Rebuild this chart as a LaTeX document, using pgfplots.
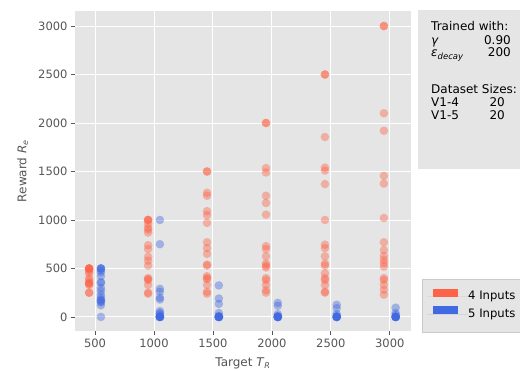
\documentclass[border=0pt]{standalone}
\usepackage{fontspec}
\setmainfont{DejaVu Sans}
\usepackage{pgfplots}
\pgfplotsset{compat=1.18}
\definecolor{ggbg}{HTML}{E5E5E5}
\definecolor{tickc}{HTML}{555555}
\definecolor{redc}{HTML}{FF6347}
\definecolor{bluec}{HTML}{4169E1}
\begin{document}
\begin{tikzpicture}[x=1pt,y=1pt]
\useasboundingbox (0,0) rectangle (520,371);
% info box
\fill[ggbg] (418,202) rectangle (520,361);
\begin{scope}[every node/.style={font=\fontsize{12}{14}\selectfont, text=black, inner sep=0pt}]
\node[anchor=base west] at (431,340.4) {Trained with:};
\node[anchor=base west] at (431,326.7) {\textit{γ}};
\node[anchor=base east] at (511,326.7) {0.90};
\node[anchor=base west] at (431,314) {\textit{ε}\raisebox{-2.5pt}{\fontsize{8.5}{9}\selectfont\textit{decay}}};
\node[anchor=base east] at (511,314) {200};
\node[anchor=base west] at (431,277) {Dataset Sizes:};
\node[anchor=base west] at (431,264) {V1-4};
\node[anchor=base east] at (505,264) {20};
\node[anchor=base west] at (431,251) {V1-5};
\node[anchor=base east] at (505,251) {20};
\end{scope}
\begin{axis}[
  at={(75pt,40pt)}, anchor=south west,
  scale only axis, width=336pt, height=320pt,
  xmin=330, xmax=3180, ymin=-145, ymax=3155,
  xtick={500,1000,...,3000}, ytick={0,500,...,3000},
  xtick pos=left, ytick pos=left,
  grid=major, major grid style={white, line width=0.9pt},
  axis background/.style={fill=ggbg},
  axis line style={draw=none},
  tick style={tickc, line width=0.7pt},
  tick align=outside, major tick length=4pt,
  ticklabel style={font=\fontsize{11.5}{13}\selectfont, text=tickc},
  /pgf/number format/assume math mode=true,
  /pgf/number format/1000 sep={},
  label style={font=\fontsize{12}{14}\selectfont, text=tickc},
  xlabel={Target \textit{T}\textsubscript{\textit{R}}},
  ylabel={Reward \textit{R}\textsubscript{\textit{e}}},
  xlabel style={yshift=-4pt},
  ylabel style={yshift=3pt},
  legend style={at={(axis description cs:1,0)}, anchor=south west, xshift=11pt, yshift=-1pt,
    fill=ggbg, draw=ggbg!88!black, font=\fontsize{11.6}{13}\selectfont, inner xsep=5pt, inner ysep=9pt,
    nodes={text height=9pt, text depth=3pt, inner ysep=2.75pt, inner xsep=0pt}},
  legend cell align=left,
  legend image code/.code={\path (0pt,0pt) -- (41pt,0pt); \fill[#1] (6pt,0pt) rectangle (31pt,8pt);},
]
\addplot[only marks, mark=*, mark size=4.3pt, color=redc, mark options={draw=none, draw opacity=0, fill=redc, fill opacity=0.42}, forget plot] table[row sep=\\] {
x y\\
450 500\\ 450 500\\ 450 500\\ 450 500\\ 450 490\\ 450 470\\ 450 450\\ 450 400\\ 450 380\\ 450 350\\ 450 350\\ 450 340\\ 450 330\\ 450 250\\ 450 250\\
950 1000\\ 950 1000\\ 950 1000\\ 950 960\\ 950 920\\ 950 900\\ 950 870\\ 950 740\\ 950 700\\ 950 620\\ 950 580\\ 950 530\\ 950 400\\ 950 390\\ 950 380\\ 950 330\\ 950 250\\ 950 240\\
1450 1500\\ 1450 1500\\ 1450 1280\\ 1450 1250\\ 1450 1090\\ 1450 1050\\ 1450 970\\ 1450 770\\ 1450 710\\ 1450 650\\ 1450 540\\ 1450 530\\ 1450 420\\ 1450 400\\ 1450 390\\ 1450 330\\ 1450 260\\ 1450 240\\
1950 2000\\ 1950 2000\\ 1950 1535\\ 1950 1490\\ 1950 1250\\ 1950 1175\\ 1950 1055\\ 1950 730\\ 1950 700\\ 1950 625\\ 1950 550\\ 1950 530\\ 1950 510\\ 1950 400\\ 1950 380\\ 1950 330\\ 1950 275\\ 1950 250\\
2450 2500\\ 2450 2500\\ 2450 1855\\ 2450 1540\\ 2450 1510\\ 2450 1370\\ 2450 1000\\ 2450 745\\ 2450 710\\ 2450 625\\ 2450 550\\ 2450 530\\ 2450 450\\ 2450 400\\ 2450 380\\ 2450 330\\ 2450 260\\ 2450 250\\
2950 3000\\ 2950 3000\\ 2950 2100\\ 2950 1920\\ 2950 1455\\ 2950 1375\\ 2950 1020\\ 2950 770\\ 2950 690\\ 2950 630\\ 2950 590\\ 2950 555\\ 2950 520\\ 2950 400\\ 2950 380\\ 2950 330\\ 2950 280\\ 2950 230\\
};
\addplot[only marks, mark=*, mark size=4.3pt, color=bluec, mark options={draw=none, draw opacity=0, fill=bluec, fill opacity=0.42}, forget plot] table[row sep=\\] {
x y\\
550 500\\ 550 500\\ 550 500\\ 550 480\\ 550 460\\ 550 420\\ 550 360\\ 550 350\\ 550 300\\ 550 270\\ 550 230\\ 550 200\\ 550 180\\ 550 170\\ 550 160\\ 550 150\\ 550 120\\ 550 0\\
1050 1000\\ 1050 750\\ 1050 290\\ 1050 260\\ 1050 200\\ 1050 180\\ 1050 60\\ 1050 40\\ 1050 30\\ 1050 10\\ 1050 0\\ 1050 0\\ 1050 0\\ 1050 0\\ 1050 0\\ 1050 0\\
1550 325\\ 1550 190\\ 1550 135\\ 1550 40\\ 1550 10\\ 1550 0\\ 1550 0\\ 1550 0\\ 1550 0\\ 1550 0\\ 1550 0\\ 1550 0\\
2050 145\\ 2050 115\\ 2050 30\\ 2050 10\\ 2050 0\\ 2050 0\\ 2050 0\\ 2050 0\\ 2050 0\\ 2050 0\\ 2050 0\\
2550 125\\ 2550 90\\ 2550 30\\ 2550 10\\ 2550 0\\ 2550 0\\ 2550 0\\ 2550 0\\ 2550 0\\ 2550 0\\
3050 95\\ 3050 40\\ 3050 20\\ 3050 0\\ 3050 0\\ 3050 0\\ 3050 0\\ 3050 0\\ 3050 0\\ 3050 0\\
};
\addlegendimage{fill=redc, draw=none}
\addlegendentry{4 Inputs}
\addlegendimage{fill=bluec, draw=none}
\addlegendentry{5 Inputs}
\end{axis}
\end{tikzpicture}
\end{document}
